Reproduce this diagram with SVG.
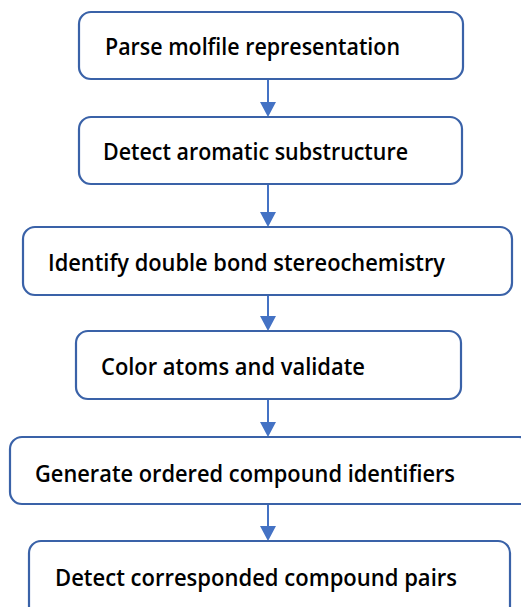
<svg xmlns="http://www.w3.org/2000/svg" width="521" height="607" viewBox="0 0 521 607">
<defs>
<style>
.box{fill:#fff;stroke:#3A62A8;stroke-width:2.2}
.lbl{font-family:"Open Sans","Noto Sans",sans-serif;font-size:23px;font-weight:600;fill:#000}
.conn{stroke:#4472C4;stroke-width:2;fill:none}
.ah{fill:#4472C4}
</style>
</defs>
<rect width="521" height="607" fill="#fff"/>
<g id="connectors">
<line class="conn" x1="268" y1="79" x2="268" y2="102"/>
<path class="ah" d="M260,102 L276,102 L268,117 Z"/>
<line class="conn" x1="268" y1="184" x2="268" y2="212"/>
<path class="ah" d="M260,212 L276,212 L268,227 Z"/>
<line class="conn" x1="268" y1="295" x2="268" y2="316"/>
<path class="ah" d="M260,316 L276,316 L268,331 Z"/>
<line class="conn" x1="268" y1="399" x2="268" y2="422"/>
<path class="ah" d="M260,422 L276,422 L268,437 Z"/>
<line class="conn" x1="268" y1="504" x2="268" y2="526"/>
<path class="ah" d="M260,526 L276,526 L268,541 Z"/>
</g>
<g id="n1"><rect class="box" x="79" y="12" width="384" height="67" rx="12"/><text class="lbl" x="105" y="55" textLength="295" lengthAdjust="spacingAndGlyphs">Parse molfile representation</text></g>
<g id="n2"><rect class="box" x="79" y="117" width="383" height="67" rx="12"/><text class="lbl" x="103" y="160" textLength="305" lengthAdjust="spacingAndGlyphs">Detect aromatic substructure</text></g>
<g id="n3"><rect class="box" x="23" y="227" width="489" height="68" rx="12"/><text class="lbl" x="48" y="271" textLength="397" lengthAdjust="spacingAndGlyphs">Identify double bond stereochemistry</text></g>
<g id="n4"><rect class="box" x="76" y="331" width="385" height="68" rx="12"/><text class="lbl" x="101" y="375" textLength="264" lengthAdjust="spacingAndGlyphs">Color atoms and validate</text></g>
<g id="n5"><rect class="box" x="10" y="437" width="521" height="67" rx="12"/><text class="lbl" x="35" y="482" textLength="420" lengthAdjust="spacingAndGlyphs">Generate ordered compound identifiers</text></g>
<g id="n6"><rect class="box" x="29" y="541" width="481" height="80" rx="12"/><text class="lbl" x="55" y="586" textLength="402" lengthAdjust="spacingAndGlyphs">Detect corresponded compound pairs</text></g>
</svg>
